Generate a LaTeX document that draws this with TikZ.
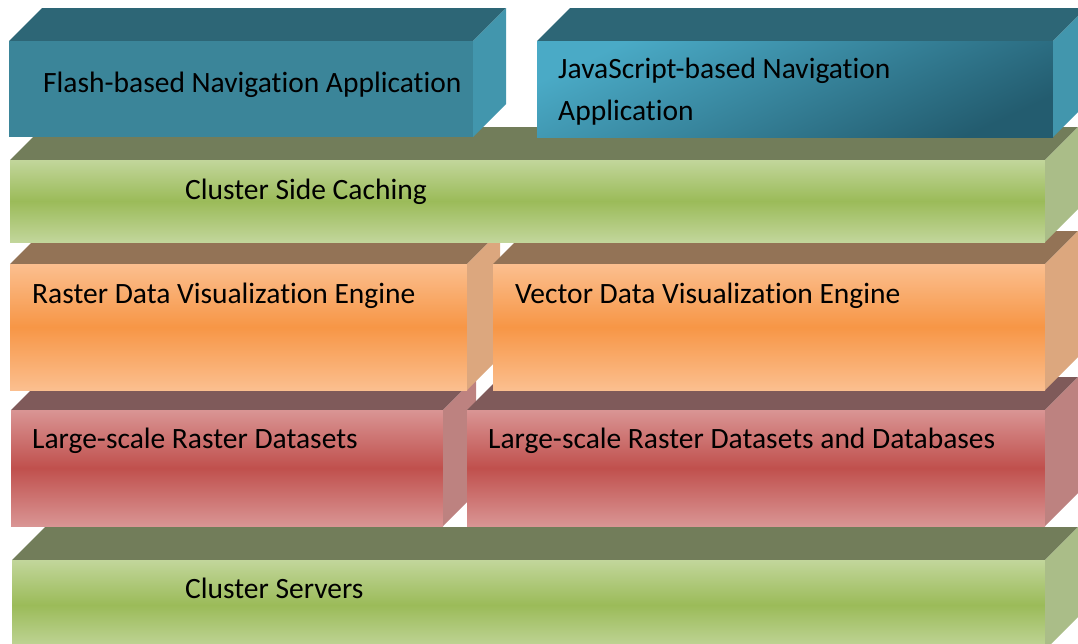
\documentclass[tikz,border=0pt]{standalone}
\usepackage{fontspec}
\setmainfont{Carlito}[RawFeature={-liga;-clig;-calt}]
\definecolor{bluetop}{HTML}{2D6676}
\definecolor{blueside}{HTML}{4296AD}
\definecolor{bluefront}{HTML}{3B8599}
\definecolor{bluelight}{HTML}{4AAAC6}
\definecolor{bluedark}{HTML}{235C6F}
\definecolor{grntop}{HTML}{727D5A}
\definecolor{grnside}{HTML}{AABD88}
\definecolor{grnlight}{HTML}{C2D69B}
\definecolor{grnmid}{HTML}{9BBB59}
\definecolor{orgtop}{HTML}{937356}
\definecolor{orgside}{HTML}{DCA77E}
\definecolor{orglight}{HTML}{FBBF8F}
\definecolor{orgmid}{HTML}{F79646}
\definecolor{redtop}{HTML}{7F5A5A}
\definecolor{redside}{HTML}{BD8280}
\definecolor{redlight}{HTML}{D99594}
\definecolor{redmid}{HTML}{C0504D}

\begin{document}
\begin{tikzpicture}[x=1pt, y=-1pt,
  topface/.style={fill=#1top},
  sideface/.style={fill=#1side},
  frontface/.style={top color=#1light, bottom color=#1light, middle color=#1mid},
  layerlabel/.style={anchor=base west, inner sep=0pt, text=black,
    font=\fontsize{29.5}{42}\selectfont}]

  \useasboundingbox (0,0) rectangle (1078,643);
  \clip (0,0) rectangle (1078,643);

  % Stacked layers, bottom row first so upper rows hide the top faces below
  % Data: left / top / right / bottom / colour family
  \foreach \xa/\ya/\xb/\yb/\fam in {%
    12/560/1045/650/grn,%
    11/410/443/526/red,%
    467/410/1045/526/red,%
    10/264/467/390/org,%
    493/264/1045/390/org,%
    10/160/1045/242/grn} {
    \fill[topface=\fam] (\xa,\ya) -- ++(33,-33) -- (\xb+33,\ya-33) -- (\xb,\ya) -- cycle;
    \shade[frontface=\fam] (\xa,\ya) rectangle (\xb,\yb);
    \fill[sideface=\fam] (\xb,\ya) -- ++(33,-33) -- ++(0,\yb-\ya) -- (\xb,\yb) -- cycle;
  }

  % Top row: navigation applications
  \fill[bluetop] (9,41) -- (42,8) -- (506,8) -- (473,41) -- cycle;
  \fill[bluefront] (9,41) rectangle (473,137);
  \fill[blueside] (473,41) -- (506,8) -- (506,104) -- (473,137) -- cycle;

  \fill[bluetop] (537,41) -- (570,8) -- (1086,8) -- (1053,41) -- cycle;
  \shade[top color=bluelight, bottom color=bluedark, shading angle=25]
    (537,41) rectangle (1053,137);
  \fill[blueside] (1053,41) -- (1086,8) -- (1086,104) -- (1053,137) -- cycle;

  % Layer labels
  \node[layerlabel] (flashnav) at (43,92) {Flash-based Navigation Application};
  \node[layerlabel, align=left] (jsnav) at (558,120) {JavaScript-based Navigation\\Application};
  \node[layerlabel] (caching) at (185,199) {Cluster Side Caching};
  \node[layerlabel] (rasterviz) at (32,303) {Raster Data Visualization Engine};
  \node[layerlabel] (vectorviz) at (515,303) {Vector Data Visualization Engine};
  \node[layerlabel] (rasterdata) at (32,448) {Large-scale Raster Datasets};
  \node[layerlabel] (rasterdb) at (488,448) {Large-scale Raster Datasets and Databases};
  \node[layerlabel] (servers) at (185,598) {Cluster Servers};

\end{tikzpicture}
\end{document}
